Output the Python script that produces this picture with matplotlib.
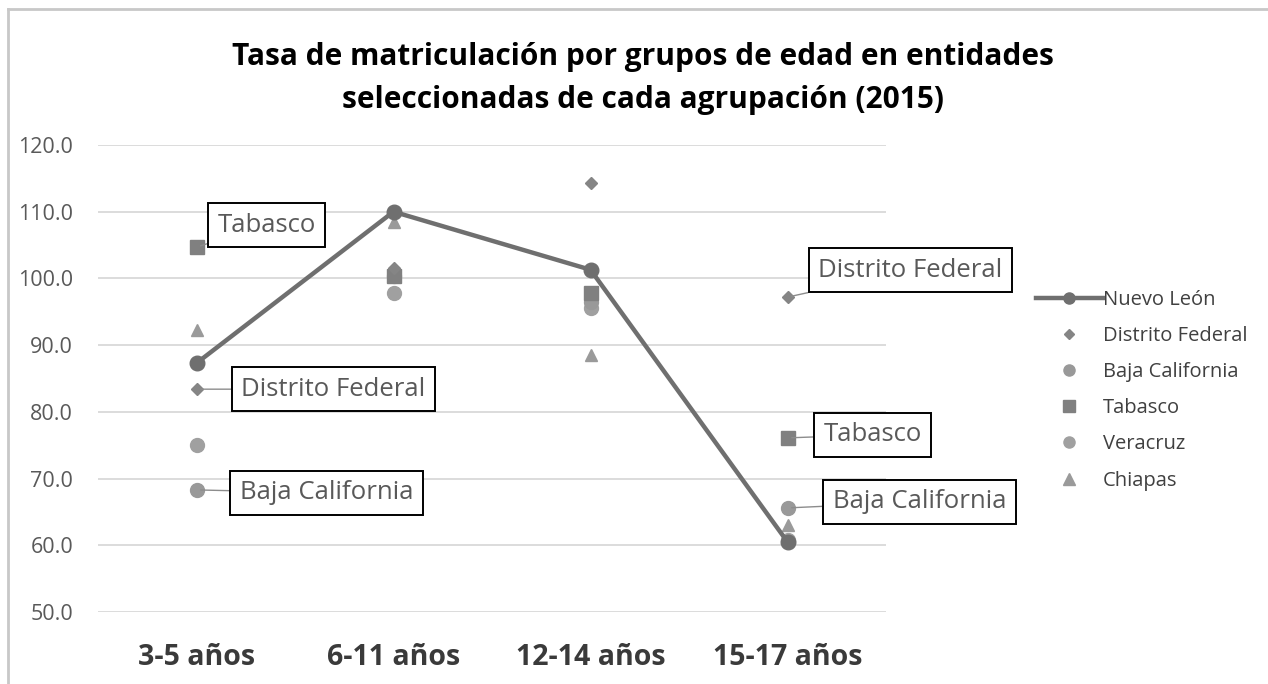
import matplotlib
matplotlib.use("Agg")
import matplotlib.pyplot as plt
from matplotlib.lines import Line2D

# datos
grupos = ["3-5 años", "6-11 años", "12-14 años", "15-17 años"]
nuevo_leon = [87.3, 110.0, 101.3, 60.5]
distrito_federal = [83.4, 101.6, 114.3, 97.2]
baja_california = [68.3, 100.3, 96.5, 65.6]
tabasco = [104.7, 100.4, 97.8, 76.1]
veracruz = [75.0, 97.8, 95.5, 60.8]
chiapas = [92.3, 108.5, 88.5, 63.0]

plt.rcParams['font.family'] = ['Open Sans', 'DejaVu Sans']

fig = plt.figure(figsize=(12.68, 6.84), dpi=100)
ax = fig.add_axes([98 / 1268, 1 - 612 / 684, (886 - 98) / 1268, (612 - 145) / 684])

x = range(len(grupos))

ax.plot(x, veracruz, ls='none', marker='o', ms=10, color='#a0a0a0', label='Veracruz', zorder=3)
ax.plot(x, baja_california, ls='none', marker='o', ms=10, color='#999999', label='Baja California', zorder=3)
ax.plot(x, tabasco, ls='none', marker='s', ms=10, color='#808080', label='Tabasco', zorder=3)
ax.plot(x, chiapas, ls='none', marker='^', ms=9, color='#9a9a9a', label='Chiapas', zorder=3)
ax.plot(x, distrito_federal, ls='none', marker='D', ms=6, color='#858585', label='Distrito Federal', zorder=4)
ax.plot(x, nuevo_leon, color='#6f6f6f', lw=3.2, marker='o', ms=10.5, label='Nuevo León', zorder=5)

ax.set_xlim(-0.5, 3.5)
ax.set_ylim(50, 120)
ax.set_yticks(range(50, 121, 10))
ax.set_yticklabels([f"{v:.1f}" for v in range(50, 121, 10)])
ax.set_xticks(list(x))
ax.set_xticklabels(grupos, fontweight='bold', fontsize=20.5, color='#3a3a3a')
ax.tick_params(axis='x', length=0, pad=22)
ax.tick_params(axis='y', length=0, pad=18, labelsize=15.5, labelcolor='#595959')
ax.grid(axis='y', color='#d9d9d9', lw=1.3)
ax.set_axisbelow(True)
for s in ax.spines.values():
    s.set_visible(False)

# etiquetas con recuadro
box = dict(boxstyle='square,pad=0.38', fc='white', ec='black', lw=1.4)
arrow = dict(arrowstyle='-', color='#8c8c8c', lw=1, shrinkA=0, shrinkB=3)
labels = [
    (0, tabasco[0], "Tabasco", (70, 22)),
    (0, distrito_federal[0], "Distrito Federal", (137, 0)),
    (0, baja_california[0], "Baja California", (130, -3)),
    (3, distrito_federal[3], "Distrito Federal", (123, 27)),
    (3, tabasco[3], "Tabasco", (85, 3)),
    (3, baja_california[3], "Baja California", (132, 6)),
]
for xi, yi, txt, off in labels:
    ax.annotate(txt, xy=(xi, yi), xytext=off, textcoords='offset pixels',
                ha='center', va='center', fontsize=18.5, color='#595959',
                bbox=box, arrowprops=arrow, zorder=6)

# leyenda
handles = [
    Line2D([], [], color='#6f6f6f', lw=3.2, marker='o', ms=8),
    Line2D([], [], ls='none', marker='D', ms=5, color='#858585'),
    Line2D([], [], ls='none', marker='o', ms=8, color='#999999'),
    Line2D([], [], ls='none', marker='s', ms=8, color='#808080'),
    Line2D([], [], ls='none', marker='o', ms=8, color='#a0a0a0'),
    Line2D([], [], ls='none', marker='^', ms=8, color='#9a9a9a'),
]
names = ["Nuevo León", "Distrito Federal", "Baja California", "Tabasco", "Veracruz", "Chiapas"]
fig.legend(handles, names, loc='upper left', bbox_to_anchor=(1028 / 1268, 1 - 282 / 684),
           frameon=False, fontsize=14.5, labelcolor='#404040', handlelength=3.3,
           handletextpad=0.0, labelspacing=0.8, borderaxespad=0)

fig.text(643 / 1268, 1 - 57 / 684, "Tasa de matriculación por grupos de edad en entidades",
         ha='center', va='center', fontsize=21.5, fontweight='bold', color='black')
fig.text(643 / 1268, 1 - 100 / 684, "seleccionadas de cada agrupación (2015)",
         ha='center', va='center', fontsize=21.5, fontweight='bold', color='black')

# borde del area del grafico
fig.add_artist(Line2D([8 / 1268, 8 / 1268], [0, 1 - 9 / 684], transform=fig.transFigure, color='#c8c8c8', lw=2))
fig.add_artist(Line2D([8 / 1268, 1], [1 - 9 / 684, 1 - 9 / 684], transform=fig.transFigure, color='#c8c8c8', lw=2))

fig.savefig("out.png", dpi=100, facecolor='white')
